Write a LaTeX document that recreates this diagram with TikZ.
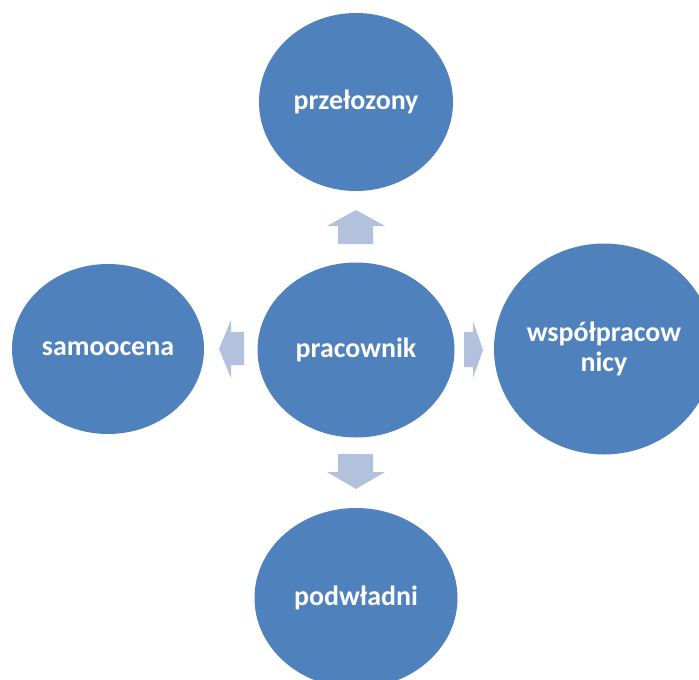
\documentclass[tikz,border=0pt]{standalone}
\usepackage{fontspec}
\setmainfont{Carlito}
\usetikzlibrary{shapes.geometric}
\definecolor{ellblue}{RGB}{79,129,189}
\definecolor{arrblue}{RGB}{178,194,221}
\tikzset{
  bubble/.style={ellipse, fill=ellblue, draw=none, inner sep=0pt, text=white,
    font=\fontsize{28}{30}\selectfont\bfseries, align=center},
  blockarrow/.style={fill=arrblue, draw=none}
}
\begin{document}
\begin{tikzpicture}[x=1bp,y=-1bp]
\useasboundingbox (0,0) rectangle (699,680);
\clip (0,0) rectangle (699,680);
\fill[white] (0,0) rectangle (699,680);
% ellipses
\node[bubble, minimum width=194bp, minimum height=178bp] (top) at (356,102) {przełozony};
\node[bubble, minimum width=197bp, minimum height=175bp] (center) at (356,350) {pracownik};
\node[bubble, minimum width=192bp, minimum height=170bp] (left) at (108,349) {samoocena};
\node[bubble, minimum width=220bp, minimum height=211bp] (right) at (604,349) {};
\node[text=white, font=\fontsize{28}{30}\selectfont\bfseries, align=center] (righttext) at (right.center) {współpracow\\nicy};
\node[bubble, minimum width=203bp, minimum height=180bp] (bottom) at (356,598) {podwładni};
% block arrows
\fill[blockarrow] (338,244) -- (338,226) -- (327,226) -- (356,210) -- (385,226) -- (373,226) -- (373,244) -- cycle;
\fill[blockarrow] (338,454) -- (373,454) -- (373,472) -- (385,472) -- (356,489) -- (327,472) -- (338,472) -- cycle;
\fill[blockarrow] (244,332) -- (231,332) -- (231,320) -- (219,349) -- (231,378) -- (231,365) -- (244,365) -- cycle;
\fill[blockarrow] (464,332) -- (473,332) -- (473,321) -- (483,350) -- (473,378) -- (473,367) -- (464,367) -- cycle;
\end{tikzpicture}
\end{document}
